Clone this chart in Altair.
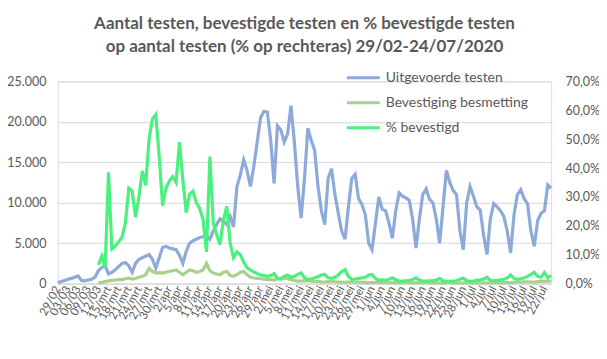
import json
import altair as alt
import pandas as pd

# ---------------- data ----------------
tick_labels = ["29/02", "03/03", "06/03", "09/03", "12/03",
               "15/mrt", "18/mrt", "21/mrt", "24/mrt", "27/mrt", "30/mrt",
               "2/apr", "5/apr", "8/apr", "11/apr", "14/apr", "17/apr", "20/apr", "23/apr", "26/apr", "29/apr",
               "2/mei", "5/mei", "8/mei", "11/mei", "14/mei", "17/mei", "20/mei", "23/mei", "26/mei", "29/mei",
               "1/jun", "4/jun", "7/jun", "10/jun", "13/jun", "16/jun", "19/jun", "22/jun", "25/jun", "28/jun",
               "1/jul", "4/jul", "7/jul", "10/jul", "13/jul", "16/jul", "19/jul", "22/jul"]

# daily values, 29/02 .. 24/07 (147 days)
tests = [100, 250, 400, 550, 650, 800, 950, 400, 350, 450,
         550, 800, 1600, 2000, 2200, 1200, 1400, 1700, 2100, 2500,
         2600, 2200, 1400, 2500, 3000, 3200, 3400, 3600, 3000, 1900,
         3200, 4500, 4600, 4400, 4300, 4200, 3500, 2500, 4000, 5000,
         5300, 5500, 5700, 5800, 5900, 5500, 6500, 7300, 8000, 7700,
         7300, 8300, 7000, 12000, 13400, 15300, 14000, 12000, 14500, 17500,
         20500, 21300, 21200, 17700, 12400, 19500, 19000, 17500, 18500, 22000,
         17500, 12000, 8100, 13000, 19200, 17700, 16500, 12000, 9000, 7300,
         13000, 14200, 11000, 8700, 6500, 5500, 9500, 13000, 13500, 10500,
         9800, 8500, 5000, 4200, 7500, 10700, 9200, 9000, 7500, 5600,
         9000, 11200, 10800, 10600, 10300, 8000, 4400, 8000, 11000, 11700,
         10400, 10000, 8000, 5000, 9500, 14000, 12500, 11500, 11000, 6500,
         4200, 10000, 12000, 10800, 9500, 9100, 6000, 3600, 8000, 9900,
         9500, 9000, 8300, 6500, 3800, 8500, 11000, 11600, 10500, 9900,
         6500, 4600, 7800, 8700, 9000, 12200, 11800]

# from 12/03 onward (day 12 .. 146)
cases_start = 12
cases = [100, 150, 250, 350, 400, 450, 500, 500,
         600, 700, 550, 650, 800, 900, 1100, 1900, 1500, 1300,
         1350, 1300, 1400, 1500, 1600, 1700, 1400, 1100, 1400, 1700,
         1600, 1400, 1500, 1700, 2500, 1600, 1300, 1200, 1100, 1400,
         1500, 1000, 900, 1100, 1400, 1500, 1100, 800, 700, 650,
         600, 550, 500, 500, 450, 600, 650, 700, 600, 500,
         400, 300, 320, 350, 330, 300, 280, 250, 220, 200,
         250, 260, 230, 200, 180, 170, 200, 210, 190, 180,
         170, 150, 130, 120, 150, 160, 150, 140, 120, 110,
         130, 140, 130, 120, 110, 100, 90, 110, 120, 110,
         100, 100, 90, 80, 100, 120, 110, 100, 100, 80,
         80, 100, 110, 100, 100, 90, 90, 80, 100, 120,
         110, 120, 130, 120, 110, 150, 180, 200, 220, 210,
         200, 180, 250, 300, 280, 320, 300]

pct = [6.5, 9.5, 5.5, 38.5, 12, 13, 14.5, 16,
       21, 33, 32, 23, 30, 39, 34, 50, 57, 58.5,
       44, 27, 33, 35.5, 37, 35, 49, 36, 24.5, 31,
       32, 28, 26, 22, 11, 44, 21, 17, 13.5, 22,
       26.7, 14, 9, 11, 10, 7.5, 5.5, 4.8, 4, 3.5,
       3, 2.8, 2.5, 2.8, 3.5, 1.8, 1.5, 2.5, 3, 2.2,
       2.5, 3.2, 3.7, 2, 1.5, 1.6, 2, 2.4, 3, 3.2,
       2, 1.8, 2.2, 3, 4.2, 4.8, 2.5, 1.5, 1.6, 1.8,
       2, 2.2, 3, 3.2, 1.8, 1.2, 1.3, 1.2, 1.5, 2,
       1.3, 0.9, 0.9, 1, 1.1, 1.4, 2, 1.2, 0.9, 0.9,
       1, 1, 1.2, 1.8, 1, 0.8, 0.8, 0.9, 1, 1.5,
       1.9, 1, 0.8, 0.9, 1.2, 1.3, 1.6, 2.2, 1.1, 1,
       1.1, 1.3, 1.5, 2, 3, 1.8, 1.5, 1.7, 2, 2.5,
       3.2, 3.9, 2.5, 2.2, 3.8, 2, 2.8]

series_names = ["Uitgevoerde testen", "Bevestiging besmetting", "% bevestigd"]
series_colors = ["#8eaadb", "#a9d18e", "#4cf07f"]

assert len(tests) == 147 and len(cases) == 135 and len(pct) == 135

df_tests = pd.DataFrame({"day": range(len(tests)), "value": tests, "series": series_names[0]})
df_cases = pd.DataFrame({"day": range(cases_start, cases_start + len(cases)), "value": cases, "series": series_names[1]})
df_pct = pd.DataFrame({"day": range(cases_start, cases_start + len(pct)), "value": pct, "series": series_names[2]})

GREY = "#595959"
GRID = "#d9d9d9"
FONT = "Lato"

x_enc = alt.X(
    "day:Q",
    scale=alt.Scale(domain=[0, 146], nice=False, zero=False),
    axis=alt.Axis(
        values=list(range(0, 147, 3)),
        labelExpr=json.dumps(tick_labels) + "[round(datum.value/3)]",
        labelAngle=-62, labelAlign="right", labelBaseline="middle",
        labelFontSize=11.5, labelColor=GREY, labelFont=FONT,
        labelOverlap=False, labelFlush=False, labelPadding=3,
        ticks=False, grid=False, domainColor=GRID, domainWidth=1,
        title=None,
    ),
)

color_enc = alt.Color(
    "series:N",
    scale=alt.Scale(domain=series_names, range=series_colors),
    legend=alt.Legend(
        title=None, orient="none", legendX=294, legendY=-16,
        symbolType="M-1.5,0L1.5,0", symbolSize=484, symbolStrokeWidth=3,
        labelOffset=10, labelFontSize=14, labelColor=GREY, labelFont=FONT,
        rowPadding=5, padding=0,
    ),
)

y_left = alt.Y(
    "value:Q",
    scale=alt.Scale(domain=[0, 25000], nice=False),
    axis=alt.Axis(
        values=[0, 5000, 10000, 15000, 20000, 25000],
        labelExpr="replace(format(datum.value, ','), ',', '.')",
        labelFontSize=12.5, labelColor=GREY, labelFont=FONT, labelPadding=12,
        gridColor=GRID, gridWidth=1, domain=False, ticks=False, title=None,
    ),
)

y_right = alt.Y(
    "value:Q",
    scale=alt.Scale(domain=[0, 70], nice=False),
    axis=alt.Axis(
        orient="right",
        values=[0, 10, 20, 30, 40, 50, 60, 70],
        labelExpr="replace(format(datum.value, '.1f'), '.', ',') + '%'",
        labelFontSize=12.5, labelColor=GREY, labelFont=FONT, labelPadding=14,
        grid=False, domain=False, ticks=False, title=None,
    ),
)

line_tests = alt.Chart(df_tests).mark_line(strokeWidth=3.2).encode(x=x_enc, y=y_left, color=color_enc)
line_cases = alt.Chart(df_cases).mark_line(strokeWidth=3.2).encode(x=x_enc, y=y_left, color=color_enc)
left = alt.layer(line_tests, line_cases)

right = alt.Chart(df_pct).mark_line(strokeWidth=3.2).encode(x=x_enc, y=y_right, color=color_enc)

chart = alt.layer(left, right).resolve_scale(y="independent").properties(
    width=495, height=203,
    autosize=alt.AutoSizeParams(type="none"),
    padding={"left": 50, "top": 73, "right": 48, "bottom": 62},
    title=alt.TitleParams(
        text=["Aantal testen, bevestigde testen en % bevestigde testen",
              "op aantal testen (% op rechteras) 29/02-24/07/2020"],
        font=FONT, fontSize=17, fontWeight="bold", color=GREY,
        anchor="middle", lineHeight=24, offset=9,
    ),
).configure_view(stroke=None).configure(background="white")

chart.save("out.html", embed_options={"renderer": "svg", "actions": False})
